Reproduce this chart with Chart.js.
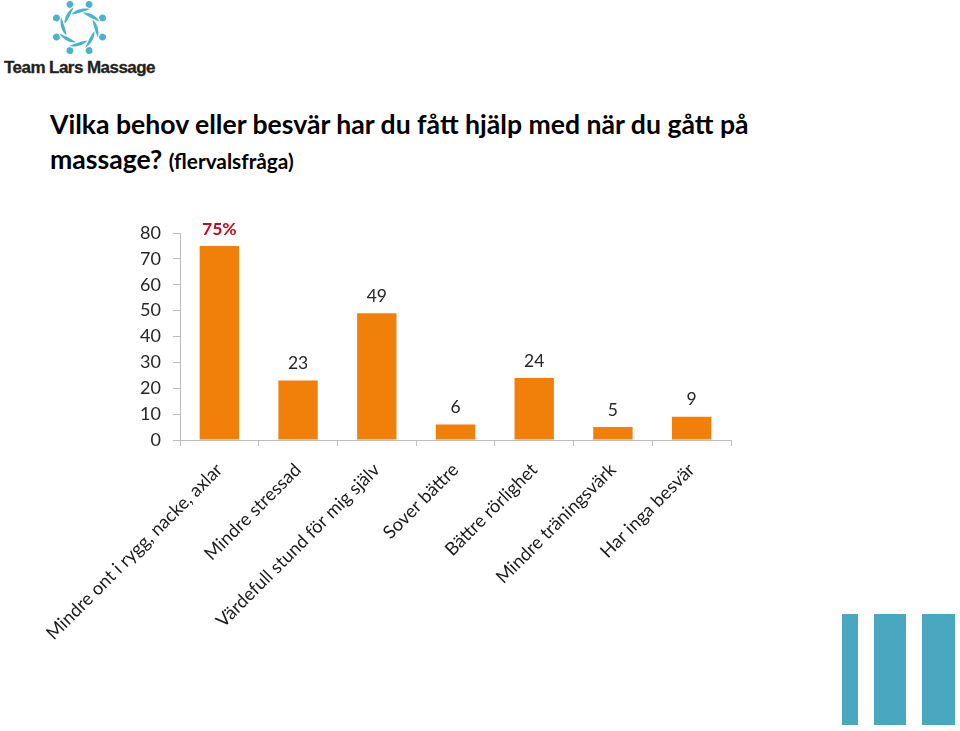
<!DOCTYPE html>
<html>
<head>
<meta charset="utf-8">
<title>Team Lars Massage</title>
<script src="https://cdn.jsdelivr.net/npm/chart.js"></script>
<style>
  html, body { margin: 0; padding: 0; background: #fff; }
  body { width: 960px; height: 731px; position: relative; overflow: hidden; font-family: Lato, sans-serif; }
  #chart { position: absolute; left: 0; top: 0; }
  #logo { position: absolute; left: 0; top: 0; }
  .brand { position: absolute; left: 4px; top: 58px; font: bold 17px "Liberation Sans", sans-serif; letter-spacing: -0.55px; color: #231f20; white-space: nowrap; -webkit-text-stroke: 0.3px #231f20; }
  h1 { position: absolute; left: 50px; top: 107px; margin: 0; font: bold 26.6px/35px Lato, sans-serif; color: #000; white-space: nowrap; }
  h1 small { font-size: 20.8px; font-weight: bold; }
  .strip { position: absolute; top: 614px; height: 111px; background: #49a8c0; }
</style>
</head>
<body>
<svg id="logo" width="160" height="56" viewBox="0 0 160 56">
  <defs>
    <path id="sw" d="M-8 -13 C-4 -18 3 -20 10.5 -18.5 C5 -16.5 -2 -13.5 -8 -13 Z" fill="#49b4c6"/>
  </defs>
  <g transform="translate(79.5 27.5)" id="wheel"></g>
</svg>
<div class="brand">Team Lars Massage</div>
<h1>Vilka behov eller besvär har du fått hjälp med när du gått på<br>massage? <small>(flervalsfråga)</small></h1>
<canvas id="chart" width="960" height="731"></canvas>
<div class="strip" style="left:842px;width:16px"></div>
<div class="strip" style="left:874px;width:32px"></div>
<div class="strip" style="left:922px;width:33px"></div>
<script>
const categories = [
  'Mindre ont i rygg, nacke, axlar',
  'Mindre stressad',
  'Värdefull stund för mig själv',
  'Sover bättre',
  'Bättre rörlighet',
  'Mindre träningsvärk',
  'Har inga besvär'
];
const values = [75, 23, 49, 6, 24, 5, 9];
const valueLabels = ['75%', '23', '49', '6', '24', '5', '9'];
const tickStep = 10;
const tickMax = 80;

// logo wheel, eight arms and eight dots
const wheel = document.getElementById('wheel');
let parts = '';
for (let i = 0; i < 8; i++) {
  parts += `<use href="#sw" transform="rotate(${i * 45})"/>`;
  parts += `<circle cx="0" cy="-25" r="3.4" fill="#49b4c6" transform="rotate(${22.5 + i * 45})"/>`;
}
wheel.innerHTML = parts;

// value labels above the bars, the first one in red
const valueLabelPlugin = {
  id: 'valueLabels',
  afterDatasetsDraw(chart) {
    const ctx = chart.ctx;
    const bars = chart.getDatasetMeta(0).data;
    ctx.save();
    ctx.textAlign = 'center';
    ctx.textBaseline = 'middle';
    bars.forEach((bar, i) => {
      ctx.fillStyle = i === 0 ? '#c00d1e' : '#262626';
      ctx.font = (i === 0 ? 'bold ' : '') + '17.5px Lato, sans-serif';
      ctx.fillText(valueLabels[i], bar.x, bar.y - 17);
    });
    ctx.restore();
  }
};

new Chart(document.getElementById('chart').getContext('2d'), {
  type: 'bar',
  data: {
    labels: categories,
    datasets: [{
      data: values,
      backgroundColor: '#f0800a',
      barPercentage: 1,
      categoryPercentage: 0.5
    }]
  },
  plugins: [valueLabelPlugin],
  options: {
    responsive: false,
    devicePixelRatio: 1,
    animation: false,
    layout: { padding: { left: 0, top: 233, right: 229, bottom: 0 } },
    plugins: { legend: { display: false }, tooltip: { enabled: false } },
    scales: {
      x: {
        afterFit(scale) { scale.height = 291; },
        grid: { drawOnChartArea: false, color: '#bdbdbd', tickLength: 6 },
        border: { color: '#bdbdbd' },
        ticks: {
          color: '#1a1a1a',
          font: { family: 'Lato, sans-serif', size: 18.3 },
          maxRotation: 45,
          minRotation: 45,
          autoSkip: false,
          padding: 13
        }
      },
      y: {
        min: 0,
        max: tickMax,
        afterFit(scale) { scale.width = 180; },
        grid: { drawOnChartArea: false, color: '#bdbdbd', tickLength: 7 },
        border: { color: '#bdbdbd' },
        ticks: {
          stepSize: tickStep,
          color: '#262626',
          font: { family: 'Lato, sans-serif', size: 18 },
          padding: 12
        }
      }
    }
  }
});
</script>
</body>
</html>
